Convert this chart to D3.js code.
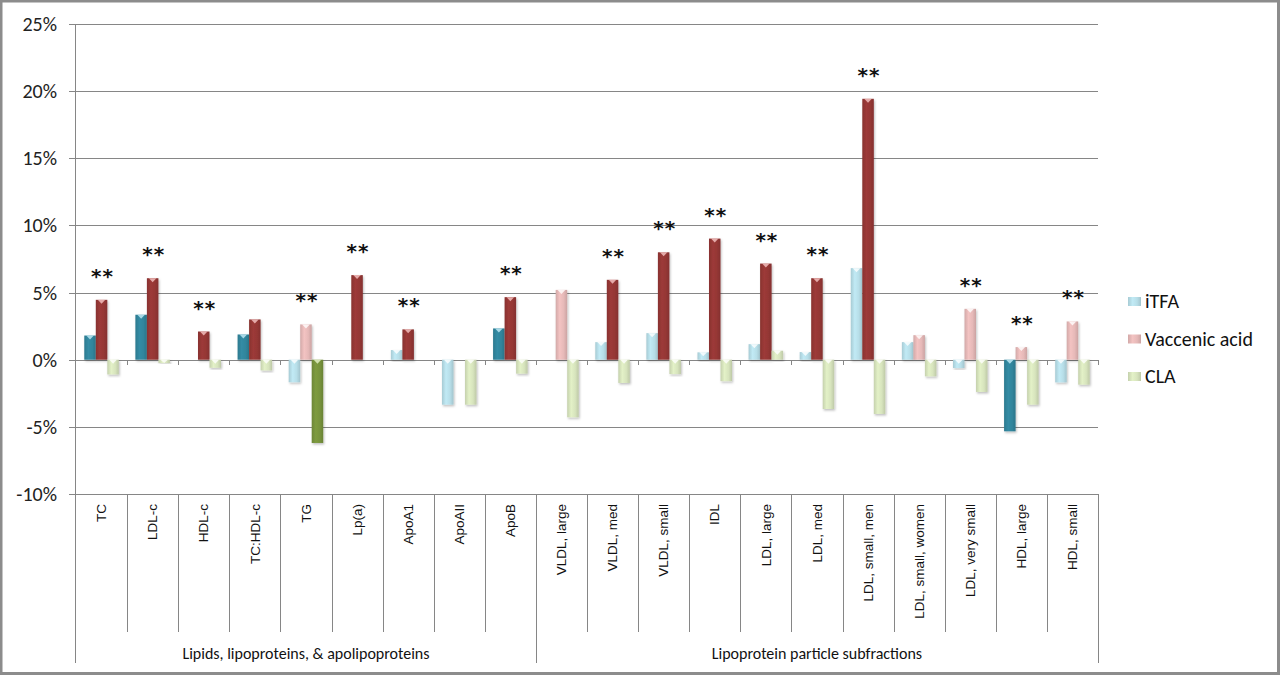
<!DOCTYPE html>
<html>
<head>
<meta charset="utf-8">
<script src="https://cdn.jsdelivr.net/npm/d3@7"></script>
<style>
  body { margin: 0; background: #fff; }
  svg { display: block; }
</style>
</head>
<body>
<div id="chart"></div>
<script>
// categories on the x axis
const categories = ["TC", "LDL-c", "HDL-c", "TC:HDL-c", "TG", "Lp(a)", "ApoA1", "ApoAII", "ApoB",
  "VLDL, large", "VLDL, med", "VLDL, small", "IDL", "LDL, large", "LDL, med", "LDL, small, men",
  "LDL, small, women", "LDL, very small", "HDL, large", "HDL, small"];
const groupNames = ["Lipids, lipoproteins, & apolipoproteins", "Lipoprotein particle subfractions"];
const groupSizes = [9, 11];
const seriesNames = ["iTFA", "Vaccenic acid", "CLA"];

// % change
const itfa = [1.8, 3.35, 0, 1.88, -1.68, 0, 0.72, -3.35, 2.33,
  0, 1.31, 1.98, 0.55, 1.16, 0.57, 6.82, 1.31, -0.62, -5.33, -1.69];
const vaccenic = [4.46, 6.07, 2.1, 3.0, 2.63, 6.3, 2.26, 0, 4.66,
  5.2, 5.95, 8.0, 9.02, 7.16, 6.07, 19.43, 1.83, 3.79, 0.94, 2.85];
const cla = [-1.1, -0.25, -0.6, -0.8, -6.2, 0, 0, -3.35, -1.04,
  -4.29, -1.73, -1.07, -1.6, 0.67, -3.67, -4.04, -1.24, -2.4, -3.35, -1.86];

// 1 = bar drawn in the dark shade
const itfaDark = [1, 1, 0, 1, 0, 0, 0, 0, 1, 0, 0, 0, 0, 0, 0, 0, 0, 0, 1, 0];
const vaccenicDark = [1, 1, 1, 1, 0, 1, 1, 0, 1, 0, 1, 1, 1, 1, 1, 1, 0, 0, 0, 0];
const claDark = [0, 0, 0, 0, 1, 0, 0, 0, 0, 0, 0, 0, 0, 0, 0, 0, 0, 0, 0, 0];

// "**" markers
const stars = [1, 1, 1, 0, 1, 1, 1, 0, 1, 0, 1, 1, 1, 1, 1, 1, 0, 1, 1, 1];

const yTicks = [-10, -5, 0, 5, 10, 15, 20, 25];

const W = 1280, H = 675;
const plot = { left: 76, right: 1098, top: 24, bottom: 494 };
const calibri = "Carlito, 'Liberation Sans Narrow', Lato, sans-serif";

const colors = {
  "iTFA": { light: "#b7dee8", dark: "#31859c" },
  "Vaccenic acid": { light: "#e6b9b8", dark: "#953735" },
  "CLA": { light: "#d7e4bd", dark: "#77933c" }
};

const svg = d3.select("#chart").append("svg")
  .attr("width", W)
  .attr("height", H);

// gradients for the bevelled bars
const defs = svg.append("defs");
const shade = (c, k) => d3.color(c).darker(k).formatHex();
const tint = (c, k) => d3.color(c).brighter(k).formatHex();
Object.entries(colors).forEach(([name, c], i) => {
  ["light", "dark"].forEach(kind => {
    const base = c[kind];
    const g = defs.append("linearGradient")
      .attr("id", "g" + i + kind)
      .attr("x1", "0").attr("x2", "1").attr("y1", "0").attr("y2", "0");
    g.append("stop").attr("offset", "0%").attr("stop-color", shade(base, 0.25));
    g.append("stop").attr("offset", "35%").attr("stop-color", tint(base, 0.15));
    g.append("stop").attr("offset", "70%").attr("stop-color", base);
    g.append("stop").attr("offset", "100%").attr("stop-color", shade(base, 0.35));
  });
});
const filter = defs.append("filter").attr("id", "shadow")
  .attr("x", "-30%").attr("y", "-10%").attr("width", "160%").attr("height", "130%");
filter.append("feDropShadow").attr("dx", 1).attr("dy", 1.5).attr("stdDeviation", 1)
  .attr("flood-color", "#000").attr("flood-opacity", 0.25);

const x = d3.scaleBand()
  .domain(categories)
  .range([plot.left, plot.right])
  .paddingInner(0).paddingOuter(0);

const xSeries = d3.scaleBand()
  .domain(seriesNames)
  .range([0, x.bandwidth()])
  .paddingInner(0).paddingOuter(0.72);

const y = d3.scaleLinear()
  .domain([-10, 25])
  .range([plot.bottom, plot.top]);

// gridlines
svg.append("g")
  .selectAll("line")
  .data(yTicks)
  .enter().append("line")
  .attr("x1", plot.left - 7)
  .attr("x2", plot.right)
  .attr("y1", d => Math.round(y(d)) + 0.5)
  .attr("y2", d => Math.round(y(d)) + 0.5)
  .attr("stroke", "#868686");

// y tick labels
svg.append("g")
  .selectAll("text")
  .data(yTicks)
  .enter().append("text")
  .attr("x", 57)
  .attr("y", d => y(d))
  .attr("dy", "0.35em")
  .attr("text-anchor", "end")
  .style("font-family", calibri)
  .style("font-size", "20px")
  .style("fill", "#222")
  .text(d => d + "%");

// category axis frame
const labelBottom = 632, groupBottom = 663;
svg.append("line")
  .attr("x1", plot.left - 0.5).attr("x2", plot.left - 0.5)
  .attr("y1", plot.top).attr("y2", groupBottom)
  .attr("stroke", "#868686");

const bounds = d3.range(1, categories.length).map(i => x(categories[i]));
const groupEdges = [];
let acc = 0;
groupSizes.forEach(n => { acc += n; groupEdges.push(acc); });

svg.append("g")
  .selectAll("line")
  .data(bounds)
  .enter().append("line")
  .attr("x1", d => Math.round(d) + 0.5)
  .attr("x2", d => Math.round(d) + 0.5)
  .attr("y1", plot.bottom)
  .attr("y2", (d, i) => groupEdges.includes(i + 1) ? groupBottom : labelBottom)
  .attr("stroke", "#868686");

svg.append("line")
  .attr("x1", Math.round(plot.right) + 0.5).attr("x2", Math.round(plot.right) + 0.5)
  .attr("y1", plot.bottom).attr("y2", groupBottom)
  .attr("stroke", "#868686");

// ticks on the zero line
svg.append("g")
  .selectAll("line")
  .data(bounds.concat([plot.right]))
  .enter().append("line")
  .attr("x1", d => Math.round(d) + 0.5)
  .attr("x2", d => Math.round(d) + 0.5)
  .attr("y1", Math.round(y(0)))
  .attr("y2", Math.round(y(0)) + 5)
  .attr("stroke", "#868686");

// category labels
svg.append("g")
  .selectAll("text")
  .data(categories)
  .enter().append("text")
  .attr("transform", d => "translate(" + (x(d) + x.bandwidth() / 2) + "," + (plot.bottom + 10) + ") rotate(-90)")
  .attr("dy", "0.35em")
  .attr("text-anchor", "end")
  .style("font-family", "'Liberation Sans', Arial, sans-serif")
  .style("font-size", "13.5px")
  .style("fill", "#111")
  .text(d => d);

// group labels
let start = 0;
groupNames.forEach((name, i) => {
  const x0 = x(categories[start]);
  const x1 = x(categories[start + groupSizes[i] - 1]) + x.bandwidth();
  svg.append("text")
    .attr("x", (x0 + x1) / 2)
    .attr("y", 653)
    .attr("dy", "0.35em")
    .attr("text-anchor", "middle")
    .style("font-family", calibri)
    .style("font-size", "16px")
    .style("fill", "#111")
    .text(name);
  start += groupSizes[i];
});

// bars
const seriesValues = [itfa, vaccenic, cla];
const seriesDark = [itfaDark, vaccenicDark, claDark];
const barData = [];
categories.forEach((c, ci) => {
  seriesNames.forEach((s, si) => {
    const v = seriesValues[si][ci];
    if (v === 0) return;
    barData.push({ cat: c, series: s, si: si, value: v, dark: seriesDark[si][ci] === 1 });
  });
});

const bars = svg.append("g").selectAll("g.bar")
  .data(barData)
  .enter().append("g")
  .attr("class", "bar")
  .attr("filter", "url(#shadow)");

bars.append("rect")
  .attr("x", d => x(d.cat) + xSeries(d.series))
  .attr("y", d => y(Math.max(0, d.value)))
  .attr("width", xSeries.bandwidth())
  .attr("height", d => Math.abs(y(d.value) - y(0)))
  .attr("fill", d => "url(#g" + d.si + (d.dark ? "dark" : "light") + ")");

// small bevel at the top end of every bar
bars.append("path")
  .attr("d", d => {
    const bx = x(d.cat) + xSeries(d.series);
    const bw = xSeries.bandwidth();
    const top = y(Math.max(0, d.value));
    const h = Math.min(4, Math.abs(y(d.value) - y(0)));
    return "M" + (bx + 2) + "," + top + "L" + (bx + bw - 2) + "," + top + "L" + (bx + bw / 2) + "," + (top + h) + "Z";
  })
  .attr("fill", d => d.dark ? tint(colors[d.series].light, 0.2) : "#ffffff")
  .attr("opacity", 0.8);

// significance markers
const catMax = categories.map((c, i) => Math.max(0, itfa[i], vaccenic[i], cla[i]));
svg.append("g")
  .selectAll("text")
  .data(categories.filter((c, i) => stars[i] === 1))
  .enter().append("text")
  .attr("x", d => x(d) + x.bandwidth() / 2 + 1)
  .attr("y", d => y(catMax[categories.indexOf(d)]) - 28 + 11)
  .attr("text-anchor", "middle")
  .style("font-family", "'DejaVu Sans', sans-serif")
  .style("font-size", "20px")
  .style("font-weight", "bold")
  .style("letter-spacing", "1px")
  .style("fill", "#111")
  .text("**");

// legend
const legend = svg.append("g")
  .selectAll("g")
  .data(seriesNames)
  .enter().append("g")
  .attr("transform", (d, i) => "translate(1128," + (301 + i * 37.5) + ")");

legend.append("rect")
  .attr("x", 0).attr("y", -4)
  .attr("width", 13).attr("height", 9)
  .attr("fill", (d, i) => "url(#g" + i + "light)");

legend.append("text")
  .attr("x", 17)
  .attr("dy", "0.35em")
  .style("font-family", calibri)
  .style("font-size", "20px")
  .style("fill", "#111")
  .text(d => d);

// outer frame
svg.append("rect")
  .attr("x", 1).attr("y", 1)
  .attr("width", W - 2.5).attr("height", H - 2.5)
  .attr("fill", "none")
  .attr("stroke", "#8c8c8c")
  .attr("stroke-width", 3);
</script>
</body>
</html>
